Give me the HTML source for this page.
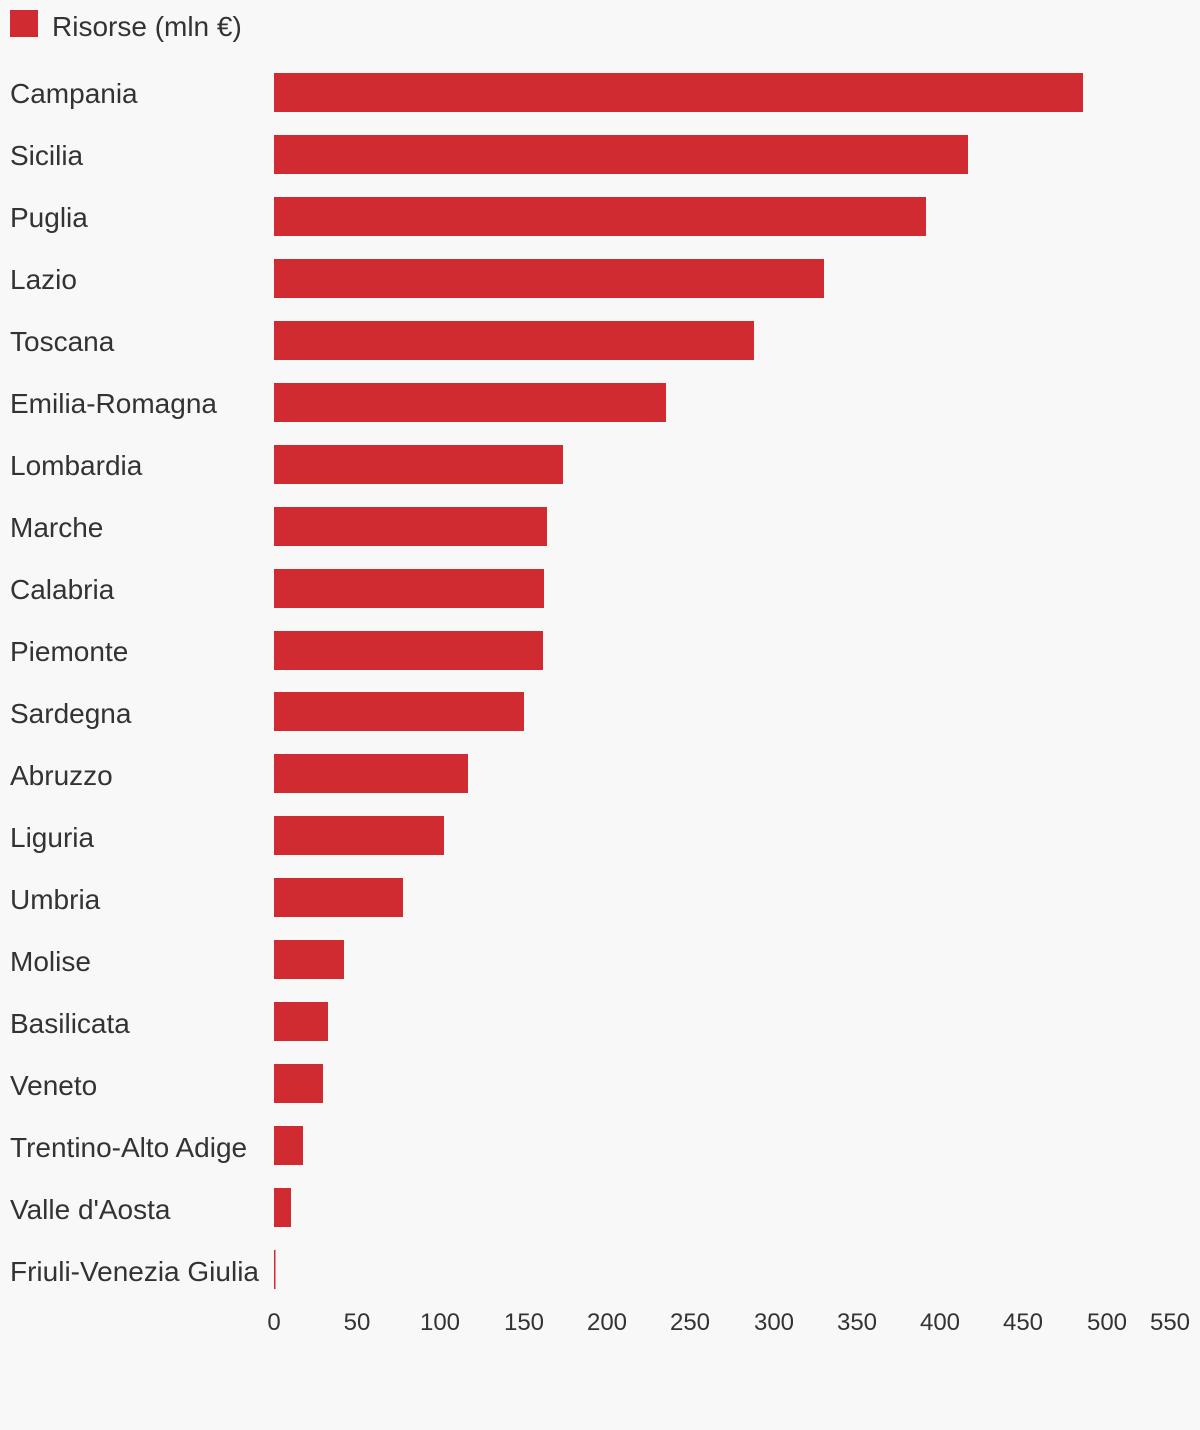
<!DOCTYPE html>
<html><head><meta charset="utf-8"><style>
html,body{margin:0;padding:0;background:#f8f8f8;}
svg{display:block;}
text{font-family:"Liberation Sans",sans-serif;fill:#333;}
</style></head><body>
<svg width="1200" height="1430" viewBox="0 0 1200 1430" xmlns="http://www.w3.org/2000/svg">
<rect width="1200" height="1430" fill="#f8f8f8"/>
<rect x="10" y="10" width="28" height="27" fill="#cf2b31"/>
<text x="52" y="36" font-size="28">Risorse (mln €)</text>
<g fill="#cf2b31">
<rect x="274" y="73" width="809" height="39"/>
<rect x="274" y="135" width="694" height="39"/>
<rect x="274" y="197" width="652" height="39"/>
<rect x="274" y="259" width="550" height="39"/>
<rect x="274" y="321" width="480" height="39"/>
<rect x="274" y="383" width="392" height="39"/>
<rect x="274" y="445" width="289" height="39"/>
<rect x="274" y="507" width="273" height="39"/>
<rect x="274" y="569" width="270" height="39"/>
<rect x="274" y="631" width="269" height="39"/>
<rect x="274" y="692" width="250" height="39"/>
<rect x="274" y="754" width="194" height="39"/>
<rect x="274" y="816" width="170" height="39"/>
<rect x="274" y="878" width="129" height="39"/>
<rect x="274" y="940" width="70" height="39"/>
<rect x="274" y="1002" width="54" height="39"/>
<rect x="274" y="1064" width="49" height="39"/>
<rect x="274" y="1126" width="29" height="39"/>
<rect x="274" y="1188" width="17" height="39"/>
<rect x="274" y="1250" width="1.5" height="39"/>
</g>
<g font-size="28">
<text x="10" y="103">Campania</text>
<text x="10" y="165">Sicilia</text>
<text x="10" y="227">Puglia</text>
<text x="10" y="289">Lazio</text>
<text x="10" y="351">Toscana</text>
<text x="10" y="413">Emilia-Romagna</text>
<text x="10" y="475">Lombardia</text>
<text x="10" y="537">Marche</text>
<text x="10" y="599">Calabria</text>
<text x="10" y="661">Piemonte</text>
<text x="10" y="723">Sardegna</text>
<text x="10" y="785">Abruzzo</text>
<text x="10" y="847">Liguria</text>
<text x="10" y="909">Umbria</text>
<text x="10" y="971">Molise</text>
<text x="10" y="1033">Basilicata</text>
<text x="10" y="1095">Veneto</text>
<text x="10" y="1157">Trentino-Alto Adige</text>
<text x="10" y="1219">Valle d'Aosta</text>
<text x="10" y="1281">Friuli-Venezia Giulia</text>
</g>
<g font-size="24" text-anchor="middle">
<text x="274" y="1330">0</text>
<text x="357" y="1330">50</text>
<text x="440" y="1330">100</text>
<text x="524" y="1330">150</text>
<text x="607" y="1330">200</text>
<text x="690" y="1330">250</text>
<text x="774" y="1330">300</text>
<text x="857" y="1330">350</text>
<text x="940" y="1330">400</text>
<text x="1023" y="1330">450</text>
<text x="1107" y="1330">500</text>
<text x="1170" y="1330">550</text>
</g>
</svg>
</body></html>
